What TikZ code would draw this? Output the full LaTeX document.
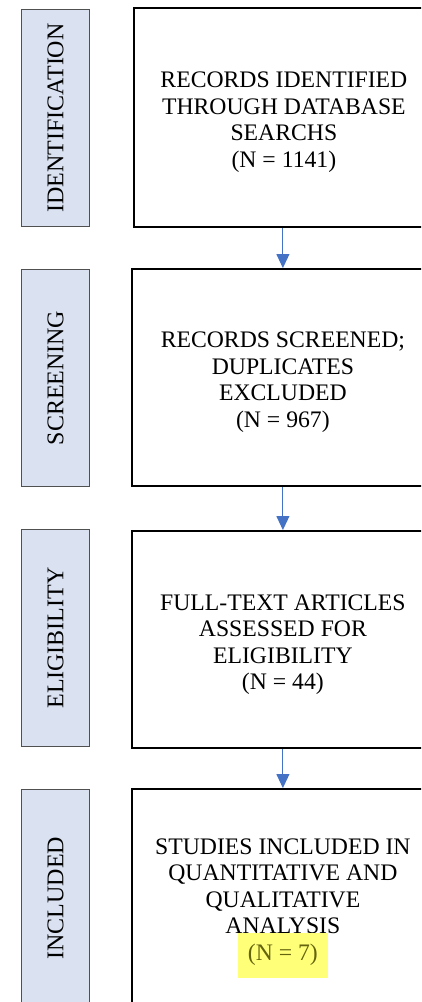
\documentclass[tikz,border=0pt]{standalone}
\usepackage{fontspec}
\setmainfont{Liberation Serif}
\usetikzlibrary{arrows.meta}
\definecolor{lblfill}{RGB}{218,226,242}
\definecolor{lbldraw}{RGB}{80,80,80}
\definecolor{arrblue}{RGB}{68,114,196}
\definecolor{hlyellow}{RGB}{255,255,120}
\definecolor{hltext}{RGB}{100,100,15}
\tikzset{
  stagebox/.style={draw=lbldraw, line width=1pt, fill=lblfill, anchor=north west, inner sep=0pt,
    minimum width=68pt, minimum height=217pt},
  stagetext/.style={rotate=90, font=\fontsize{24}{28}\selectfont, inner sep=0pt},
  mainbox/.style={draw=black, line width=1.8pt, anchor=north west, inner sep=0pt,
    minimum width=302pt, minimum height=217pt},
  maintext/.style={align=center, font=\fontsize{23.7}{26.5}\selectfont, inner sep=0pt},
  flowarrow/.style={draw=arrblue, line width=1pt, -{Triangle[length=14pt,width=13pt]}},
}
\begin{document}
\begin{tikzpicture}[x=1pt, y=-1pt]
\useasboundingbox (0,0) rectangle (421,1002);
\clip (0,0) rectangle (421,1002);
\fill[white] (0,0) rectangle (421,1002);

% stage labels
\node[stagebox] (s1) at (21,9) {};
\node[stagebox] (s2) at (21,269) {};
\node[stagebox] (s3) at (21,529) {};
\node[stagebox] (s4) at (21,789) {};
\node[stagetext] (t1) at (s1.center) {IDENTIFICATION};
\node[stagetext] (t2) at (s2.center) {SCREENING};
\node[stagetext] (t3) at (s3.center) {ELIGIBILITY};
\node[stagetext] (t4) at (s4.center) {INCLUDED};

% main boxes
\node[mainbox, minimum width=300pt, minimum height=219pt] (b1) at (133,7) {};
\node[mainbox] (b2) at (131,268) {};
\node[mainbox] (b3) at (131,530) {};
\node[mainbox] (b4) at (131,788) {};

\node[maintext] (m1) at ([yshift=-5pt]b1.center) {RECORDS IDENTIFIED\\THROUGH DATABASE\\SEARCHS\\(N = 1141)};
\node[maintext] (m2) at ([yshift=-5pt]b2.center) {RECORDS SCREENED;\\DUPLICATES\\EXCLUDED\\(N = 967)};
\node[maintext] (m3) at ([yshift=-5.5pt]b3.center) {FULL-TEXT ARTICLES\\ASSESSED FOR\\ELIGIBILITY\\(N = 44)};
\node[maintext] (m4) at ([yshift=-2pt]b4.center) {STUDIES INCLUDED IN\\QUANTITATIVE AND\\QUALITATIVE\\ANALYSIS\\\smash{{\setlength{\fboxsep}{0pt}\colorbox{hlyellow}{\hspace{10pt}\rule[-18pt]{0pt}{45pt}\textcolor{hltext}{(N = 7)}\hspace{10pt}}}}};

% connectors
\draw[flowarrow] (b1.south -| b2.north) -- (b2.north);
\draw[flowarrow] (b2.south) -- (b3.north);
\draw[flowarrow] (b3.south) -- (b4.north);
\end{tikzpicture}
\end{document}
